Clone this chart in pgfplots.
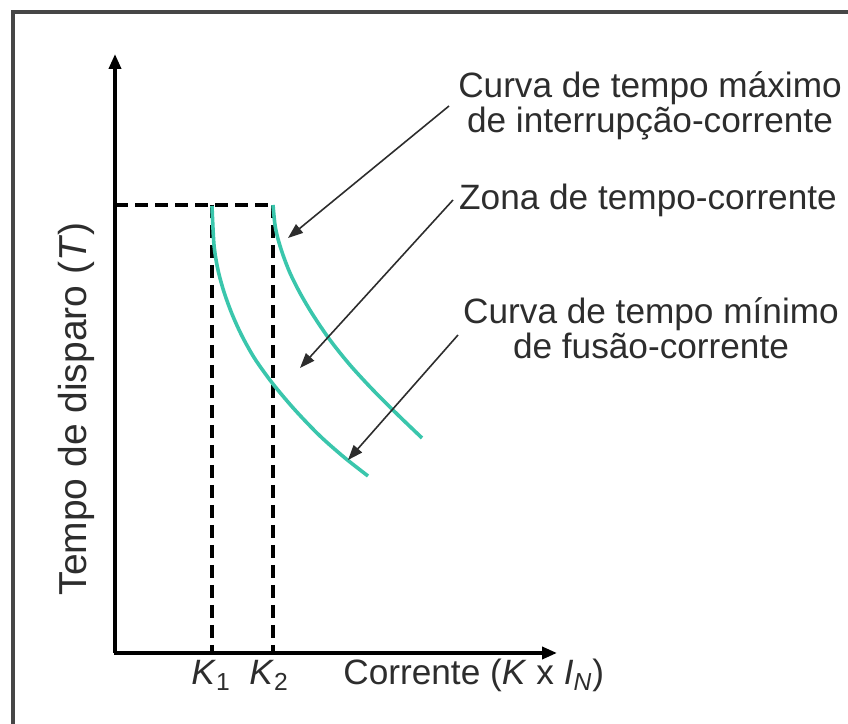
\documentclass[border=0pt]{standalone}
\usepackage{fontspec}
\setmainfont{Liberation Sans}
\usepackage{pgfplots}
\pgfplotsset{compat=1.18}
\usetikzlibrary{arrows.meta}

\definecolor{curveteal}{RGB}{58,198,172}
\definecolor{inkgray}{RGB}{45,45,45}
\definecolor{framegray}{RGB}{70,70,70}

% Canvas coordinates: x to the right, y upwards, 848 x 724 units
\begin{document}
\begin{tikzpicture}
\begin{axis}[
  scale only axis, width=424pt, height=362pt,
  xmin=0, xmax=848, ymin=0, ymax=724,
  hide axis, clip=false,
]
% frame
\draw[framegray, line width=1.6pt] (axis cs:13,0) -- (axis cs:13,712) -- (axis cs:848,712);

% axes
\draw[black, line width=1.8pt, -{Triangle[length=7.5pt,width=6pt]}]
  (axis cs:115,71) -- (axis cs:115,670);
\draw[black, line width=1.8pt, -{Triangle[length=7.5pt,width=6pt]}]
  (axis cs:114,71) -- (axis cs:557,71);

% guide lines at the top of the curves
\begin{scope}[black, line width=1.9pt, dash pattern=on 6.5pt off 3.5pt]
\draw (axis cs:115,519) -- (axis cs:273,519);
\draw (axis cs:212,519) -- (axis cs:212,71);
\draw (axis cs:273,519) -- (axis cs:273,71);
\end{scope}

% minimum melting time curve
\addplot[curveteal, line width=1.8pt, smooth] coordinates {
  (212,518) (214,479) (218,454) (224,432) (232,410) (242,388)
  (255,365) (273,340) (295,314) (320,288) (345,266) (368,248)
};
% maximum clearing time curve
\addplot[curveteal, line width=1.8pt, smooth] coordinates {
  (273,519) (275,499) (278,485) (283,469) (290,451) (300,431)
  (313,409) (330,384) (350,359) (373,334) (398,309) (422,286)
};

% callout arrows
\begin{scope}[inkgray, line width=0.8pt, -{Triangle[length=7.5pt,width=5.5pt]}]
\draw (axis cs:449,618) -- (axis cs:288,486);
\draw (axis cs:453,524) -- (axis cs:300,356);
\draw (axis cs:458,389) -- (axis cs:348,264);
\end{scope}

% callout texts
\begin{scope}[every node/.style={text=inkgray, font=\fontsize{17.6}{17.5}\selectfont}]
\node[align=center] at (axis cs:650,618) {Curva de tempo máximo\\de interrupção-corrente};
\node at (axis cs:648,524) {Zona de tempo-corrente};
\node[align=center] at (axis cs:651,396) {Curva de tempo mínimo\\de fusão-corrente};

% axis labels
\node[anchor=base] at (axis cs:211,39) {\textit{K}\textsubscript{1}};
\node[anchor=base] at (axis cs:269,39) {\textit{K}\textsubscript{2}};
\node[anchor=base west, inner sep=0pt] at (axis cs:343,39) {Corrente (\textit{K} x \textit{I}\textsubscript{\textit{N}})};
\node[rotate=90, font=\fontsize{19.5}{20}\selectfont] at (axis cs:76,315) {Tempo de disparo (\textit{T})};
\end{scope}
\end{axis}
\pgfresetboundingbox
\useasboundingbox (current axis.south west) rectangle (current axis.north east);
\end{tikzpicture}
\end{document}
